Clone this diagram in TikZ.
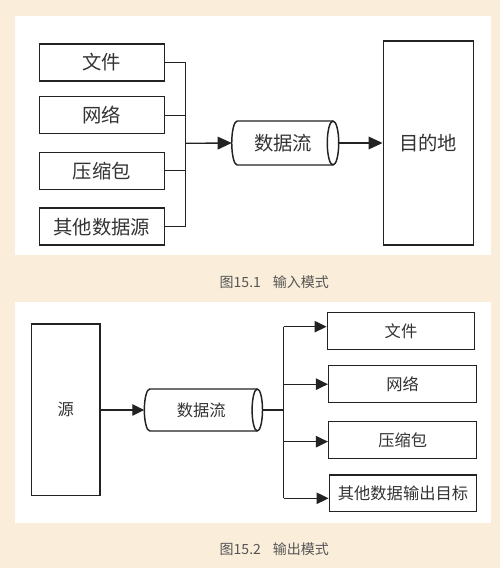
\documentclass[tikz,border=0pt]{standalone}
\usepackage{fontspec}
\setmainfont{Noto Sans CJK SC}
\usetikzlibrary{arrows.meta}
\definecolor{bgc}{HTML}{FAEEDA}
\definecolor{lnc}{HTML}{222222}
\definecolor{txc}{HTML}{333333}
\definecolor{capc}{HTML}{555555}
\begin{document}
\begin{tikzpicture}[x=0.75pt,y=0.75pt,
  outline/.style={draw=lnc, line width=1.1pt},
  box/.style={outline, fill=white, text=txc, inner sep=0pt, anchor=center},
  bigtxt/.style={font=\fontsize{14.5pt}{16pt}\selectfont},
  smalltxt/.style={font=\fontsize{12.2pt}{14pt}\selectfont},
  wire/.style={draw=lnc, line width=1pt},
  arrA/.style={wire, -{Triangle[length=10.5pt,width=9.5pt]}},
  arrB/.style={wire, -{Triangle[length=9pt,width=8.5pt]}},
  capt/.style={text=capc, font=\fontsize{10.5pt}{12pt}\selectfont}]
% background and panels
\fill[bgc] (0,0) rectangle (500,568);
\useasboundingbox (0,0) rectangle (500,568);
\fill[white] (15,552) rectangle (491,313);
\fill[white] (15,265.7) rectangle (491,44.7);

% ---------- Figure 15.1 ----------
\node[box, bigtxt, minimum width=93.75pt, minimum height=27.75pt] (a1) at (101.8,505.5) {文件};
\node[box, bigtxt, minimum width=93.75pt, minimum height=27.75pt] (a2) at (101.8,452.8) {网络};
\node[box, bigtxt, minimum width=93.75pt, minimum height=27.75pt] (a3) at (101.8,397.2) {压缩包};
\node[box, bigtxt, minimum width=93.75pt, minimum height=27.75pt] (a4) at (101.8,341.3) {其他数据源};
\coordinate (b1) at (185.7,424.7);
\foreach \n in {a1,a2,a3,a4} \draw[wire] (\n.east) -- (\n.east -| b1);
\draw[wire] (a1.east -| b1) -- (a4.east -| b1);

% cylinder 1
\draw[outline, fill=white] (237.2,447) -- (333,447)
  arc[start angle=90, end angle=-90, x radius=4.3pt, y radius=16.5pt]
  -- (237.2,403)
  arc[start angle=270, end angle=90, x radius=4.1pt, y radius=16.5pt] -- cycle;
\draw[outline] (333,447) arc[start angle=90, end angle=270, x radius=4.3pt, y radius=16.5pt];
\node[text=txc, bigtxt] (s1) at (283,425) {数据流};
\coordinate (s1in) at (231.7,425);
\coordinate (s1out) at (338.7,425);

\node[box, bigtxt, minimum width=67.5pt, minimum height=153pt] (dst) at (428.3,425) {目的地};

\draw[arrA] (b1) -- (s1in);
\draw[arrA] (s1out) -- (dst.west);

\node[capt, anchor=west] (cap1) at (215,286) {图15.1\hspace{0.85em}输入模式};

% ---------- Figure 15.2 ----------
\node[box, smalltxt, minimum width=51.2pt, minimum height=128.8pt] (src) at (65.8,158.2) {源};

\draw[outline, fill=white] (149.8,179) -- (257.3,179)
  arc[start angle=90, end angle=-90, x radius=3.9pt, y radius=15.75pt]
  -- (149.8,137)
  arc[start angle=270, end angle=90, x radius=4.1pt, y radius=15.75pt] -- cycle;
\draw[outline] (257.3,179) arc[start angle=90, end angle=270, x radius=3.9pt, y radius=15.75pt];
\node[text=txc, smalltxt] (s2) at (201.3,158) {数据流};
\coordinate (s2in) at (144.3,158);
\coordinate (s2out) at (262.5,158);

\node[box, smalltxt, minimum width=110.5pt, minimum height=27.75pt] (d1) at (401,237.2) {文件};
\node[box, smalltxt, minimum width=111pt, minimum height=27.75pt] (d2) at (402.7,183.8) {网络};
\node[box, smalltxt, minimum width=111pt, minimum height=27.75pt] (d3) at (402.7,128.2) {压缩包};
\node[box, smalltxt, minimum width=110.5pt, minimum height=27.5pt] (d4) at (403,74.7) {其他数据输出目标};

\coordinate (b2) at (283.7,158);
\draw[arrB] (src.east |- s2in) -- (s2in);
\draw[wire] (s2out) -- (b2);
\coordinate (e1) at ([yshift=3.1pt]d1.west);
\coordinate (e2) at (d2.west);
\coordinate (e3) at ([yshift=-1.4pt]d3.west);
\coordinate (e4) at ([yshift=-3.75pt]d4.west);
\draw[wire] (e1 -| b2) -- (e4 -| b2);
\foreach \e in {e1,e2,e3,e4} \draw[arrB] (\e -| b2) -- (\e);

\node[capt, anchor=west] (cap2) at (215,19) {图15.2\hspace{0.85em}输出模式};
\end{tikzpicture}
\end{document}
